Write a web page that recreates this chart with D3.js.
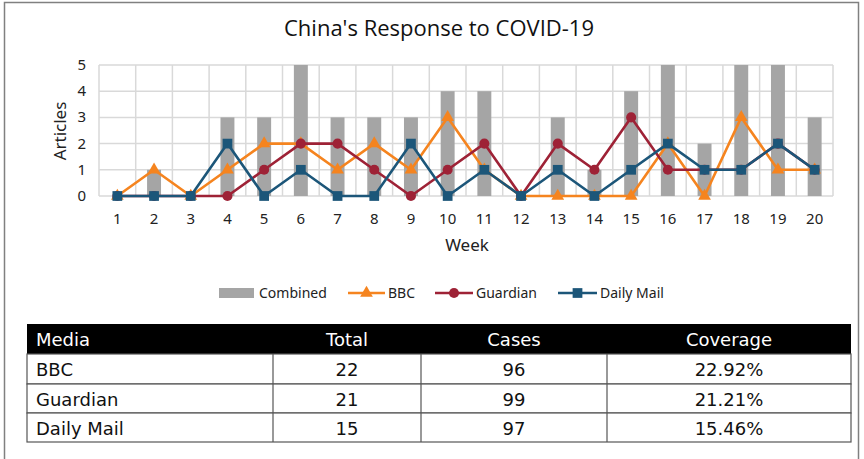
<!DOCTYPE html>
<html>
<head>
<meta charset="utf-8">
<script src="https://cdn.jsdelivr.net/npm/d3@7"></script>
<style>
  body { margin: 0; background: #fff; }
  svg { display: block; }
</style>
</head>
<body>
<div id="chart"></div>
<script>
// chart data
var weeks = [1, 2, 3, 4, 5, 6, 7, 8, 9, 10, 11, 12, 13, 14, 15, 16, 17, 18, 19, 20];
var combined = [0, 1, 0, 3, 3, 5, 3, 3, 3, 4, 4, 0, 3, 1, 4, 5, 2, 5, 5, 3];
var bbc = [0, 1, 0, 1, 2, 2, 1, 2, 1, 3, 1, 0, 0, 0, 0, 2, 0, 3, 1, 1];
var guardian = [0, 0, 0, 0, 1, 2, 2, 1, 0, 1, 2, 0, 2, 1, 3, 1, 1, 1, 2, 1];
var dailyMail = [0, 0, 0, 2, 0, 1, 0, 0, 2, 0, 1, 0, 1, 0, 1, 2, 1, 1, 2, 1];
var yTicks = [0, 1, 2, 3, 4, 5];

// table data
var tableHeader = ["Media", "Total", "Cases", "Coverage"];
var tableMedia = ["BBC", "Guardian", "Daily Mail"];
var tableTotal = [22, 21, 15];
var tableCases = [96, 99, 97];
var tableCoverage = ["22.92%", "21.21%", "15.46%"];

var width = 864, height = 459;
var font = "'Open Sans', 'Noto Sans', sans-serif";

var svg = d3.select("#chart").append("svg")
    .attr("width", width)
    .attr("height", height);

svg.append("rect").attr("width", width).attr("height", height).attr("fill", "#fff");

// outer frame
svg.append("rect")
    .attr("x", 4.5).attr("y", 2.5)
    .attr("width", 854).attr("height", 480)
    .attr("fill", "none")
    .attr("stroke", "#808080")
    .attr("stroke-width", 1.5);

svg.append("text")
    .attr("x", 439).attr("y", 36)
    .attr("text-anchor", "middle")
    .style("font-family", font)
    .style("font-size", "22px")
    .attr("fill", "#111")
    .text("China's Response to COVID-19");

var x = d3.scaleBand().domain(weeks).range([99, 833]);
var y = d3.scaleLinear().domain([0, 5]).range([196, 65]);

// grid
var grid = svg.append("g").attr("stroke", "#d9d9d9").attr("stroke-width", 1.5);
grid.selectAll(".h").data(yTicks).enter().append("line")
    .attr("x1", 99).attr("x2", 833)
    .attr("y1", function (d) { return y(d); })
    .attr("y2", function (d) { return y(d); });
grid.selectAll(".v").data(weeks.concat([21])).enter().append("line")
    .attr("x1", function (d) { return d <= 20 ? x(d) : 833; })
    .attr("x2", function (d) { return d <= 20 ? x(d) : 833; })
    .attr("y1", 65).attr("y2", 196);

// combined bars
var barW = x.bandwidth() * 0.38;
svg.selectAll(".bar").data(weeks).enter().append("rect")
    .attr("x", function (d) { return x(d) + x.bandwidth() / 2 - barW / 2; })
    .attr("y", function (d, i) { return y(combined[i]); })
    .attr("width", barW)
    .attr("height", function (d, i) { return y(0) - y(combined[i]); })
    .attr("fill", "#a5a5a5");

var series = [
    { name: "BBC", values: bbc, color: "#f5841f", marker: d3.symbolTriangle, size: 70 },
    { name: "Guardian", values: guardian, color: "#9e2236", marker: d3.symbolCircle, size: 80 },
    { name: "Daily Mail", values: dailyMail, color: "#1c5679", marker: d3.symbolSquare, size: 95 }
];

var line = d3.line()
    .x(function (d) { return x(d.week) + x.bandwidth() / 2; })
    .y(function (d) { return y(d.value); });

series.forEach(function (s) {
    var pts = weeks.map(function (w, i) { return { week: w, value: s.values[i] }; });
    svg.append("path")
        .datum(pts)
        .attr("d", line)
        .attr("fill", "none")
        .attr("stroke", s.color)
        .attr("stroke-width", 2.6)
        .attr("stroke-linejoin", "round");
    svg.selectAll(null).data(pts).enter().append("path")
        .attr("transform", function (d) {
            return "translate(" + (x(d.week) + x.bandwidth() / 2) + "," + y(d.value) + ")";
        })
        .attr("d", d3.symbol().type(s.marker).size(s.size))
        .attr("fill", s.color);
});

// axes labels
var axisFont = "'Noto Sans', sans-serif";
svg.selectAll(".ytick").data(yTicks).enter().append("text")
    .attr("x", 86)
    .attr("y", function (d) { return y(d) + 5; })
    .attr("text-anchor", "end")
    .style("font-family", axisFont)
    .style("font-size", "15px")
    .attr("fill", "#222")
    .text(function (d) { return d; });

svg.selectAll(".xtick").data(weeks).enter().append("text")
    .attr("x", function (d) { return x(d) + x.bandwidth() / 2; })
    .attr("y", 224)
    .attr("text-anchor", "middle")
    .style("font-family", axisFont)
    .style("font-size", "15px")
    .attr("fill", "#222")
    .text(function (d) { return d; });

svg.append("text")
    .attr("x", 467).attr("y", 251)
    .attr("text-anchor", "middle")
    .style("font-family", axisFont)
    .style("font-size", "17px")
    .attr("fill", "#222")
    .text("Week");

svg.append("text")
    .attr("transform", "translate(66,131) rotate(-90)")
    .attr("text-anchor", "middle")
    .style("font-family", axisFont)
    .style("font-size", "17px")
    .attr("fill", "#222")
    .text("Articles");

// legend
var legend = svg.append("g").style("font-family", axisFont).style("font-size", "14px");
legend.append("rect").attr("x", 219).attr("y", 288).attr("width", 35).attr("height", 10).attr("fill", "#a5a5a5");
legend.append("text").attr("x", 259).attr("y", 298).attr("fill", "#222").text("Combined");
var legPos = [[348, 385], [435, 473], [558, 597]];
series.forEach(function (s, i) {
    var p = legPos[i];
    legend.append("line")
        .attr("x1", p[0]).attr("x2", p[1]).attr("y1", 293).attr("y2", 293)
        .attr("stroke", s.color).attr("stroke-width", 2.6);
    legend.append("path")
        .attr("transform", "translate(" + (p[0] + p[1]) / 2 + ",293)")
        .attr("d", d3.symbol().type(s.marker).size(s.size))
        .attr("fill", s.color);
    legend.append("text").attr("x", p[1] + 3).attr("y", 298).attr("fill", "#222").text(s.name);
});

// table
var tFont = "'DejaVu Sans', sans-serif";
var colX = [27, 273, 421, 607, 851];
var rowY = [324, 354, 384, 413, 442];
var table = svg.append("g").style("font-family", tFont).style("font-size", "18px");

table.append("rect")
    .attr("x", colX[0]).attr("y", rowY[0])
    .attr("width", colX[4] - colX[0]).attr("height", rowY[1] - rowY[0])
    .attr("fill", "#000");

function cellX(c) { return c === 0 ? colX[0] + 9 : (colX[c] + colX[c + 1]) / 2; }

table.selectAll(".hd").data(tableHeader).enter().append("text")
    .attr("x", function (d, c) { return cellX(c); })
    .attr("y", rowY[0] + 22)
    .attr("text-anchor", function (d, c) { return c === 0 ? "start" : "middle"; })
    .attr("fill", "#fff")
    .text(function (d) { return d; });

var rows = tableMedia.map(function (m, i) {
    return [m, tableTotal[i], tableCases[i], tableCoverage[i]];
});

var rowG = table.selectAll(".row").data(rows).enter().append("g");
rowG.append("rect")
    .attr("x", colX[0]).attr("y", function (d, i) { return rowY[i + 1]; })
    .attr("width", colX[4] - colX[0])
    .attr("height", function (d, i) { return rowY[i + 2] - rowY[i + 1]; })
    .attr("fill", "#fff").attr("stroke", "#555").attr("stroke-width", 1.2);
rowG.each(function (d, i) {
    var g = d3.select(this);
    [1, 2, 3].forEach(function (c) {
        g.append("line")
            .attr("x1", colX[c]).attr("x2", colX[c])
            .attr("y1", rowY[i + 1]).attr("y2", rowY[i + 2])
            .attr("stroke", "#555").attr("stroke-width", 1.2);
    });
    g.selectAll("text").data(d).enter().append("text")
        .attr("x", function (v, c) { return cellX(c); })
        .attr("y", rowY[i + 1] + 22)
        .attr("text-anchor", function (v, c) { return c === 0 ? "start" : "middle"; })
        .attr("fill", "#111")
        .text(function (v) { return v; });
});
</script>
</body>
</html>
